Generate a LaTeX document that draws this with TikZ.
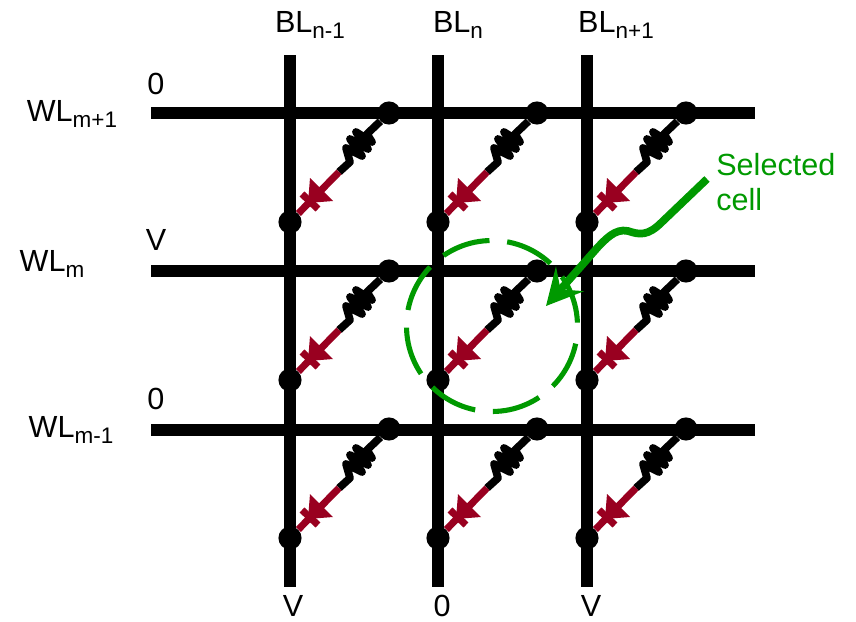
\documentclass[tikz,border=0pt]{standalone}
\usepackage{fontspec}
\setmainfont{Liberation Sans}
\usetikzlibrary{arrows.meta}
\definecolor{cellgreen}{RGB}{0,153,0}
\definecolor{diodered}{RGB}{153,0,32}
\newcommand{\lowsub}[1]{\raisebox{-0.32ex}{\fontsize{12.8}{14}\selectfont #1}}
\tikzset{
  wire/.style={line width=6.8pt},
  dot/.style={circle,fill=black,inner sep=0pt,minimum size=13.2pt},
  lead/.style={line width=4.4pt,line join=round},
  diode/.style={diodered,line width=4pt},
  label/.style={font=\fontsize{17.4}{20}\selectfont,inner sep=0pt}
}
\begin{document}
\begin{tikzpicture}[x=0.02cm,y=-0.02cm]
  \useasboundingbox (0,0) rectangle (856,622);
  % bit lines and word lines
  \foreach \col/\x in {1/290,2/438,3/587} {
    \coordinate (bltop\col) at (\x,55);
    \coordinate (blbot\col) at (\x,587);
    \draw[wire] (bltop\col) -- (blbot\col);
  }
  \foreach \row/\y in {1/113,2/271,3/430} {
    \coordinate (wlleft\row) at (151,\y);
    \coordinate (wlright\row) at (755,\y);
    \draw[wire] (wlleft\row) -- (wlright\row);
  }
  % memory cells
  \foreach \col/\x in {1/290,2/438,3/587} {
    \foreach \row/\y in {1/222,2/380,3/538} {
      \begin{scope}[shift={(\x,\y)}]
        \node[dot] (cellbot\col\row) at (0,0) {};
        \node[dot] (celltop\col\row) at (99,-109) {};
        \coordinate (cellmid\col\row) at (49,-50);
        \draw[lead] (cellmid\col\row) -- (60,-60) -- (56,-74) -- (72,-66) -- (60,-83) -- (78,-73)
          -- (66,-90) -- (82,-80) -- (77,-88) -- (celltop\col\row);
        \draw[diode] (cellbot\col\row) -- (cellmid\col\row);
        \fill[diodered] (20,-44) -- (43,-21) -- (18,-19) -- cycle;
        \draw[diode] (12,-28) -- (28,-13);
      \end{scope}
    }
  }
  % selected cell
  \draw[cellgreen,line width=2.9pt,dash pattern=on 0.98cm off 0.355cm,dash phase=0.98cm]
    (492,326) circle (85.5);
  \node[label,text=cellgreen,align=left,anchor=west] (selected) at (716,182) {Selected\\cell};
  \coordinate (selstart) at (707,179);
  \coordinate (seltip) at (546,306);
  \draw[cellgreen,line width=4.4pt,-{Stealth[length=0.72cm,width=0.74cm,inset=0.28cm]}]
    (selstart) -- (662,222) .. controls (648,236) and (640,235) .. (628,231)
    .. controls (615,228) and (605,240) .. (598,247) -- (seltip);
  % labels
  \node[label] (bla) at (310,25) {BL\lowsub{n-1}};
  \node[label] (blb) at (458,25) {BL\lowsub{n}};
  \node[label] (blc) at (616,25) {BL\lowsub{n+1}};
  \node[label] (wla) at (72,114) {WL\lowsub{m+1}};
  \node[label] (wlb) at (52,264) {WL\lowsub{m}};
  \node[label] (wlc) at (71,430) {WL\lowsub{m-1}};
  \node[label] (vla) at (156,84) {0};
  \node[label] (vlb) at (156,240) {V};
  \node[label] (vlc) at (156,399) {0};
  \node[label] (vba) at (293,606) {V};
  \node[label] (vbb) at (442,606) {0};
  \node[label] (vbc) at (591,606) {V};
\end{tikzpicture}
\end{document}
